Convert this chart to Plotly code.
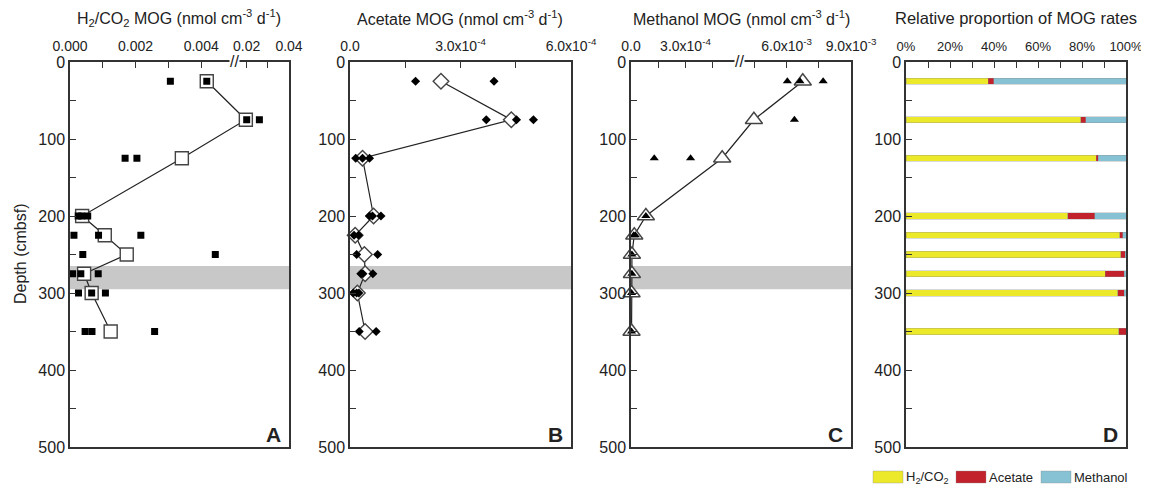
import plotly.graph_objects as go

# page offsets (browser body margin) -> figure drawn at (8, 8)
OX, OY = 8, 8
W, H = 1149 - OX, 485 - OY

# ---------------- data ----------------
depth = [25, 75, 125, 200, 225, 250, 275, 300, 350]

h2_mean = [0.00417, 0.0196, 0.00341, 0.00037, 0.00106, 0.00173, 0.00043, 0.00066, 0.00124]
h2_rep_depth = [25, 25, 75, 75, 125, 125, 200, 200, 200, 225, 225, 225, 250, 250,
                275, 275, 275, 300, 300, 300, 350, 350, 350]
h2_rep = [0.00306, 0.00417, 0.0200, 0.026, 0.00168, 0.00204, 0.00025, 0.00035, 0.00054,
          0.00012, 0.00087, 0.00216, 0.00039, 0.00443, 0.00008, 0.00033, 0.00086,
          0.00026, 0.00066, 0.00108, 0.00046, 0.00067, 0.00258]

ac_mean = [2.47e-4, 4.38e-4, 0.34e-4, 0.64e-4, 0.14e-4, 0.39e-4, 0.41e-4, 0.20e-4, 0.41e-4]
ac_rep_depth = [25, 25, 75, 75, 75, 125, 125, 125, 200, 200, 200, 225, 225, 250, 250,
                275, 275, 275, 300, 300, 300, 350, 350]
ac_rep = [1.78e-4, 3.91e-4, 3.70e-4, 4.52e-4, 4.98e-4, 0.155e-4, 0.34e-4, 0.53e-4,
          0.53e-4, 0.61e-4, 0.84e-4, 0.11e-4, 0.23e-4, 0.18e-4, 0.75e-4, 0.30e-4,
          0.35e-4, 0.62e-4, 0.09e-4, 0.18e-4, 0.24e-4, 0.25e-4, 0.71e-4]

me_mean = [6.75e-3, 4.47e-3, 5.02e-4, 0.82e-4, 0.18e-4, 0.05e-4, 0.05e-4, 0.03e-4, 0.03e-4]
me_rep_depth = [25, 25, 25, 75, 125, 125, 200, 225, 225, 250, 275, 300, 350]
me_rep = [6.03e-3, 6.62e-3, 7.70e-3, 6.36e-3, 1.28e-4, 3.28e-4, 0.82e-4, 0.15e-4,
          0.24e-4, 0.05e-4, 0.05e-4, 0.03e-4, 0.03e-4]

p_h2 = [37.4, 79.5, 86.4, 73.5, 97.1, 97.6, 90.5, 96.2, 96.8]
p_ac = [2.4, 2.2, 1.0, 12.3, 1.4, 2.1, 8.7, 3.0, 3.2]
p_me = [60.2, 18.3, 12.6, 14.2, 1.5, 0.3, 0.8, 0.8, 0.0]

series_names = ["H<sub>2</sub>/CO<sub>2</sub>", "Acetate", "Methanol"]
series_colors = ["#ECE82A", "#C1222B", "#86C1D4"]

h2_ticks = [0.0, 0.001, 0.002, 0.003, 0.004, 0.02, 0.03, 0.04]
h2_ticktext = ["0.000", "", "0.002", "", "0.004", "0.02", "", "0.04"]
ac_ticks = [0.0, 1.5e-4, 3.0e-4, 4.5e-4, 6.0e-4]
ac_ticktext = ["0.0", "", "3.0x10<sup>-4</sup>", "", "6.0x10<sup>-4</sup>"]
me_ticks = [0.0, 1.5e-4, 3.0e-4, 4.5e-4, 4.5e-3, 6.0e-3, 7.5e-3, 9.0e-3]
me_ticktext = ["0.0", "", "3.0x10<sup>-4</sup>", "", "", "6.0x10<sup>-3</sup>", "",
               "9.0x10<sup>-3</sup>"]
pct_ticks = list(range(0, 101, 10))
pct_ticktext = [f"{v}%" if v % 20 == 0 else "" for v in pct_ticks]
depth_ticks = list(range(0, 501, 50))
depth_ticktext = [str(v) if v % 100 == 0 else "" for v in depth_ticks]

# ------------- broken-axis mappings -------------
A_B1, A_B2, A_MAX, A_K = 0.005, 0.014, 0.04, 0.0645
C_B1, C_B2, C_MAX, C_K = 6.0e-4, 3.82e-3, 9.0e-3, 0.118


def brkA(v):
    return v if v <= A_B1 else A_B1 + (v - A_B2) * A_K


def brkC(v):
    return v if v <= C_B1 else C_B1 + (v - C_B2) * C_K


def fx(px):
    return (px - OX) / W


def fy(py):
    return 1 - (py - OY) / H


FONT = "Liberation Sans, Arial, sans-serif"
INK = "#222222"
LINE = "#333333"

# pixel layout (reference page pixels)
panels_px = [(70, 289), (350, 571), (631, 851), (906, 1126)]
TOP_PX, BOT_PX = 62, 447
ydom = [fy(BOT_PX), fy(TOP_PX)]

fig = go.Figure()

mean_marker = dict(color="white", line=dict(color="#444444", width=1.4))


def add_profile(xs, ys, rep_x, rep_y, sym, msize, rsize, xa, ya):
    fig.add_trace(go.Scatter(
        x=xs, y=ys, mode="lines+markers", xaxis=xa, yaxis=ya,
        line=dict(color="#222222", width=1.2),
        marker=dict(symbol=sym, size=msize, **mean_marker),
        showlegend=False, cliponaxis=False))
    fig.add_trace(go.Scatter(
        x=rep_x, y=rep_y, mode="markers", xaxis=xa, yaxis=ya,
        marker=dict(symbol=sym, size=rsize, color="#000000"),
        showlegend=False, cliponaxis=False))


add_profile([brkA(v) for v in h2_mean], depth, [brkA(v) for v in h2_rep], h2_rep_depth,
            "square", 13, 7, "x", "y")
add_profile(ac_mean, depth, ac_rep, ac_rep_depth, "diamond", 12, 7, "x2", "y2")
add_profile([brkC(v) for v in me_mean], depth, [brkC(v) for v in me_rep], me_rep_depth,
            "triangle-up", 15, 8, "x3", "y3")

bar_line = dict(color="rgba(140,140,140,0.55)", width=0.6)
for vals, name, col in zip([p_h2, p_ac, p_me], series_names, series_colors):
    fig.add_trace(go.Bar(x=vals, y=depth, orientation="h", width=8, name=name,
                         marker=dict(color=col, line=bar_line), xaxis="x4", yaxis="y4",
                         showlegend=False))

xranges = [[0, brkA(A_MAX)], [0, 6.0e-4], [0, brkC(C_MAX)], [0, 100]]
xticks = [([brkA(v) for v in h2_ticks], h2_ticktext),
          (ac_ticks, ac_ticktext),
          ([brkC(v) for v in me_ticks], me_ticktext),
          (pct_ticks, pct_ticktext)]
xfont_sizes = [14, 14, 14, 13]

layout = {}
for i, ((l, r), rng, (tv, tt), fs) in enumerate(zip(panels_px, xranges, xticks, xfont_sizes)):
    sfx = "" if i == 0 else str(i + 1)
    layout[f"xaxis{sfx}"] = dict(
        domain=[fx(l), fx(r)], range=rng, side="top", anchor=f"y{sfx}",
        tickmode="array", tickvals=tv, ticktext=tt, ticks="inside", ticklen=6,
        tickwidth=1.2, tickcolor=LINE, showline=True, linecolor=LINE, linewidth=1.5,
        mirror=True, showgrid=False, zeroline=False, tickangle=0,
        ticklabelstandoff=4,
        tickfont=dict(family=FONT, size=fs, color=INK), automargin=False)
    layout[f"yaxis{sfx}"] = dict(
        domain=ydom, range=[500, 0], anchor=f"x{sfx}",
        tickmode="array", tickvals=depth_ticks, ticktext=depth_ticktext,
        ticks="inside", ticklen=6, tickwidth=1.2, tickcolor=LINE,
        showline=True, linecolor=LINE, linewidth=1.5, mirror=True,
        showgrid=False, zeroline=False,
        tickfont=dict(family=FONT, size=16, color=INK), automargin=False)

shapes = []
# shaded interval in A, B, C
for sfx in ["", "2", "3"]:
    shapes.append(dict(type="rect", xref=f"x{sfx} domain", yref=f"y{sfx}",
                       x0=0, x1=1, y0=265, y1=295, fillcolor="#C8C8C8",
                       line=dict(width=0), layer="below"))

annotations = []
# axis-break marks on the top axes
ytop = ydom[1]
for xref, xb in [("x", brkA(A_B1)), ("x3", brkC(C_B1))]:
    annotations.append(dict(text="//", x=xb, y=ytop, xref=xref, yref="paper",
                            showarrow=False, font=dict(family=FONT, size=16, color=INK),
                            bgcolor="white", borderpad=0, xanchor="center", yanchor="middle"))

titles = ["H<sub>2</sub>/CO<sub>2</sub> MOG (nmol cm<sup>-3</sup> d<sup>-1</sup>)",
          "Acetate MOG (nmol cm<sup>-3</sup> d<sup>-1</sup>)",
          "Methanol MOG (nmol cm<sup>-3</sup> d<sup>-1</sup>)",
          "Relative proportion of MOG rates"]
title_x = [179, 460, 741, 1016]
title_sizes = [16, 16, 16, 16.5]
for tx, t, ts in zip(title_x, titles, title_sizes):
    annotations.append(dict(text=t, x=fx(tx), y=fy(18), xref="paper", yref="paper",
                            showarrow=False, font=dict(family=FONT, size=ts, color=INK),
                            xanchor="center", yanchor="middle"))

for (l, r), letter in zip(panels_px, ["A", "B", "C", "D"]):
    annotations.append(dict(text=f"<b>{letter}</b>", x=fx(r - 6), y=fy(434),
                            xref="paper", yref="paper", showarrow=False,
                            font=dict(family=FONT, size=21, color=INK),
                            xanchor="right", yanchor="middle"))

annotations.append(dict(text="Depth (cmbsf)", x=fx(20), y=fy(254), xref="paper",
                        yref="paper", showarrow=False, textangle=-90,
                        font=dict(family=FONT, size=16, color=INK),
                        xanchor="center", yanchor="middle"))

# key for panel D (wide colour boxes as in the original)
key_box_x = [873, 956, 1041]
for bx, name, col in zip(key_box_x, series_names, series_colors):
    shapes.append(dict(type="rect", xref="paper", yref="paper",
                       x0=fx(bx), x1=fx(bx + 30), y0=fy(483), y1=fy(471),
                       fillcolor=col, line=dict(color="rgba(140,140,140,0.6)", width=0.6)))
    annotations.append(dict(text=name, x=fx(bx + 32), y=fy(477), xref="paper", yref="paper",
                            showarrow=False, xanchor="left", yanchor="middle", borderpad=0,
                            font=dict(family=FONT, size=13, color=INK)))

fig.update_layout(
    **layout,
    width=W, height=H, barmode="stack", showlegend=False,
    margin=dict(l=0, r=0, t=0, b=0),
    paper_bgcolor="white", plot_bgcolor="white",
    shapes=shapes, annotations=annotations,
    font=dict(family=FONT, color=INK),
)

fig.write_html("out.html")
